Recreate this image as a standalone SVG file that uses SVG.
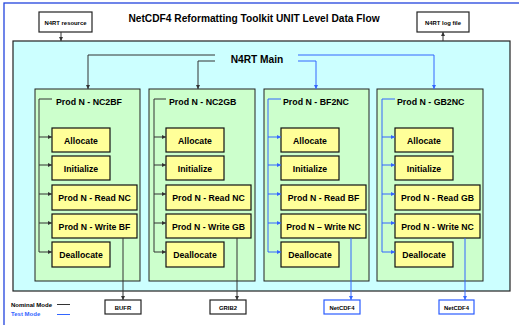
<svg xmlns="http://www.w3.org/2000/svg" width="519" height="325" viewBox="0 0 519 325">
<style>
text{font-family:"Liberation Sans",Arial,sans-serif;font-weight:bold;fill:#000}
.lbl{font-size:5.9px;text-anchor:middle}
.hdr{font-size:8.8px}
.yt{font-size:8.7px;text-anchor:middle}
.grp{fill:#ccffcc;stroke:#222;stroke-width:1}
.yb{fill:#ffff99;stroke:#111;stroke-width:1.2}
.io{fill:#fff;stroke:#222;stroke-width:1.2}
.iob{fill:#fff;stroke:#2a5cff;stroke-width:1.2}
.k{fill:none;stroke:#333;stroke-width:1}
.b{fill:none;stroke:#3366ff;stroke-width:1}
</style>
<defs>
<marker id="ak" markerUnits="userSpaceOnUse" markerWidth="5" markerHeight="5" refX="4" refY="2.5" orient="auto"><path d="M0,0.5 L4,2.5 L0,4.5 z" fill="#333"/></marker>
<marker id="ab" markerUnits="userSpaceOnUse" markerWidth="5" markerHeight="5" refX="4" refY="2.5" orient="auto"><path d="M0,0.5 L4,2.5 L0,4.5 z" fill="#3366ff"/></marker>
</defs>
<rect x="0" y="0" width="519" height="325" fill="#fff"/>
<rect x="4" y="3" width="600" height="400" fill="none" stroke="#2244dd" stroke-width="1.3"/>
<text x="254" y="22" font-size="10.2" text-anchor="middle">NetCDF4 Reformatting Toolkit UNIT Level Data Flow</text>

<g id="main">
<rect x="13" y="41" width="497" height="250" fill="#ccffff" stroke="#222" stroke-width="1.2"/>
<text x="257" y="63" font-size="10.2" text-anchor="middle">N4RT Main</text>
</g>

<g id="n4rt-resource">
<rect class="io" x="39" y="12" width="53" height="20"/>
<text class="lbl" x="65.5" y="24.5">N4RT resource</text>
</g>
<g id="n4rt-log">
<rect class="io" x="417" y="12" width="52" height="20"/>
<text class="lbl" x="443" y="24.5">N4RT log file</text>
</g>

<g id="col1">
<rect class="grp" x="35" y="89" width="105" height="192"/>
<text class="hdr" x="56" y="105">Prod N - NC2BF</text>
<rect class="yb" x="52" y="128" width="58" height="24"/><text class="yt" x="81" y="143.5">Allocate</text>
<rect class="yb" x="52" y="156" width="58" height="24"/><text class="yt" x="81" y="171.5">Initialize</text>
<rect class="yb" x="52" y="185" width="85" height="25"/><text class="yt" x="94.5" y="200.5">Prod N - Read NC</text>
<rect class="yb" x="52" y="214" width="85" height="24"/><text class="yt" x="94.5" y="229.5">Prod N - Write BF</text>
<rect class="yb" x="52" y="242" width="58" height="25"/><text class="yt" x="81" y="257.5">Deallocate</text>
</g>
<g id="col2">
<rect class="grp" x="149" y="89" width="106" height="192"/>
<text class="hdr" x="169" y="105">Prod N - NC2GB</text>
<rect class="yb" x="166" y="128" width="58" height="24"/><text class="yt" x="195" y="143.5">Allocate</text>
<rect class="yb" x="166" y="156" width="58" height="24"/><text class="yt" x="195" y="171.5">Initialize</text>
<rect class="yb" x="166" y="185" width="85" height="25"/><text class="yt" x="208.5" y="200.5">Prod N - Read NC</text>
<rect class="yb" x="166" y="214" width="85" height="24"/><text class="yt" x="208.5" y="229.5">Prod N - Write GB</text>
<rect class="yb" x="166" y="242" width="58" height="25"/><text class="yt" x="195" y="257.5">Deallocate</text>
</g>
<g id="col3">
<rect class="grp" x="264" y="89" width="105" height="192"/>
<text class="hdr" x="283" y="105">Prod N - BF2NC</text>
<rect class="yb" x="281" y="128" width="58" height="24"/><text class="yt" x="310" y="143.5">Allocate</text>
<rect class="yb" x="281" y="156" width="58" height="24"/><text class="yt" x="310" y="171.5">Initialize</text>
<rect class="yb" x="281" y="185" width="85" height="25"/><text class="yt" x="323.5" y="200.5">Prod N - Read BF</text>
<rect class="yb" x="281" y="214" width="85" height="24"/><text class="yt" x="323.5" y="229.5">Prod N – Write NC</text>
<rect class="yb" x="281" y="242" width="58" height="25"/><text class="yt" x="310" y="257.5">Deallocate</text>
</g>
<g id="col4">
<rect class="grp" x="377" y="89" width="106" height="192"/>
<text class="hdr" x="397" y="105">Prod N - GB2NC</text>
<rect class="yb" x="395" y="128" width="58" height="24"/><text class="yt" x="424" y="143.5">Allocate</text>
<rect class="yb" x="395" y="156" width="58" height="24"/><text class="yt" x="424" y="171.5">Initialize</text>
<rect class="yb" x="395" y="185" width="85" height="25"/><text class="yt" x="437.5" y="200.5">Prod N - Read GB</text>
<rect class="yb" x="395" y="214" width="85" height="24"/><text class="yt" x="437.5" y="229.5">Prod N - Write NC</text>
<rect class="yb" x="395" y="242" width="58" height="25"/><text class="yt" x="424" y="257.5">Deallocate</text>
</g>

<g id="bufr"><rect class="io" x="105" y="300" width="36" height="14"/><text class="lbl" x="123" y="310">BUFR</text></g>
<g id="grib2"><rect class="io" x="210" y="300" width="36" height="14"/><text class="lbl" x="228" y="310">GRIB2</text></g>
<g id="netcdf4-a"><rect class="iob" x="324" y="300" width="36" height="14"/><text class="lbl" x="342" y="310">NetCDF4</text></g>
<g id="netcdf4-b"><rect class="iob" x="439" y="300" width="35" height="14"/><text class="lbl" x="456.5" y="310">NetCDF4</text></g>

<g id="legend">
<text x="11" y="307" font-size="6">Nominal Mode</text>
<text x="11" y="316" font-size="6" style="fill:#3366ff">Test Mode</text>
<line class="k" x1="57" y1="304.5" x2="70" y2="304.5"/>
<line class="b" x1="57" y1="314.5" x2="70" y2="314.5"/>
</g>

<g id="connectors">
<line class="k" x1="61" y1="32" x2="61" y2="41" marker-end="url(#ak)"/>
<line class="k" x1="443" y1="41" x2="443" y2="32" marker-end="url(#ak)"/>
<path class="k" d="M215,55 H88 V89" marker-end="url(#ak)"/>
<path class="k" d="M215,61 H198 V89" marker-end="url(#ak)"/>
<path class="b" d="M298,55 H434 V89" marker-end="url(#ab)"/>
<path class="b" d="M298,61 H316 V89" marker-end="url(#ab)"/>

<path class="k" d="M52,99 H39 V252"/>
<line class="k" x1="39" y1="137" x2="52" y2="137" marker-end="url(#ak)"/>
<line class="k" x1="39" y1="165" x2="52" y2="165" marker-end="url(#ak)"/>
<line class="k" x1="39" y1="194" x2="52" y2="194" marker-end="url(#ak)"/>
<line class="k" x1="39" y1="223" x2="52" y2="223" marker-end="url(#ak)"/>
<line class="k" x1="39" y1="252" x2="52" y2="252" marker-end="url(#ak)"/>
<line class="k" x1="123" y1="238" x2="123" y2="300" marker-end="url(#ak)"/>

<path class="k" d="M166,99 H154 V252"/>
<line class="k" x1="154" y1="137" x2="166" y2="137" marker-end="url(#ak)"/>
<line class="k" x1="154" y1="165" x2="166" y2="165" marker-end="url(#ak)"/>
<line class="k" x1="154" y1="194" x2="166" y2="194" marker-end="url(#ak)"/>
<line class="k" x1="154" y1="223" x2="166" y2="223" marker-end="url(#ak)"/>
<line class="k" x1="154" y1="252" x2="166" y2="252" marker-end="url(#ak)"/>
<line class="k" x1="237" y1="238" x2="237" y2="300" marker-end="url(#ak)"/>

<path class="b" d="M281,99 H268 V252"/>
<line class="b" x1="268" y1="137" x2="281" y2="137" marker-end="url(#ab)"/>
<line class="b" x1="268" y1="165" x2="281" y2="165" marker-end="url(#ab)"/>
<line class="b" x1="268" y1="194" x2="281" y2="194" marker-end="url(#ab)"/>
<line class="b" x1="268" y1="223" x2="281" y2="223" marker-end="url(#ab)"/>
<line class="b" x1="268" y1="252" x2="281" y2="252" marker-end="url(#ab)"/>
<line class="b" x1="351" y1="238" x2="351" y2="300" marker-end="url(#ab)"/>

<path class="b" d="M395,99 H382 V252"/>
<line class="b" x1="382" y1="137" x2="395" y2="137" marker-end="url(#ab)"/>
<line class="b" x1="382" y1="165" x2="395" y2="165" marker-end="url(#ab)"/>
<line class="b" x1="382" y1="194" x2="395" y2="194" marker-end="url(#ab)"/>
<line class="b" x1="382" y1="223" x2="395" y2="223" marker-end="url(#ab)"/>
<line class="b" x1="382" y1="252" x2="395" y2="252" marker-end="url(#ab)"/>
<line class="b" x1="465" y1="238" x2="465" y2="300" marker-end="url(#ab)"/>
</g>
</svg>
